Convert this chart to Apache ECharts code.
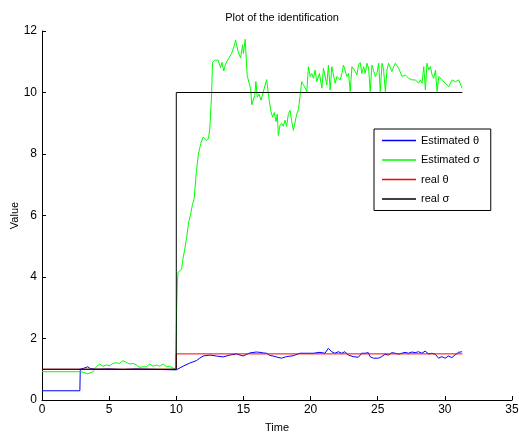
<!DOCTYPE html>
<html>
<head>
<meta charset="utf-8">
<script src="https://cdn.jsdelivr.net/npm/echarts@6/dist/echarts.min.js"></script>
<style>html,body{margin:0;padding:0;background:#fff;}#c{width:519px;height:435px;}</style>
</head>
<body>
<div id="c"></div>
<script>
var seriesNames = ['Estimated θ', 'Estimated σ', 'real θ', 'real σ'];
var xTicks = [0, 5, 10, 15, 20, 25, 30, 35];
var yTicks = [0, 2, 4, 6, 8, 10, 12];

var estTheta = [
  [0, 0.3], [2.82, 0.3], [2.85, 1.0], [3.1, 1.03], [3.4, 1.08], [3.6, 1.02], [4.0, 1.0], [5.0, 1.01],
  [6.0, 0.99], [7.0, 1.01], [8.0, 1.0], [9.0, 0.99], [10.0, 0.98],
  [10.51, 1.1], [11.0, 1.2], [11.5, 1.28], [11.75, 1.36], [12.0, 1.43], [12.5, 1.46], [13.0, 1.43],
  [13.48, 1.4], [13.98, 1.46], [14.47, 1.5], [14.97, 1.43], [15.47, 1.53], [15.96, 1.56], [16.23, 1.55],
  [16.46, 1.53], [16.72, 1.52], [16.96, 1.45], [17.21, 1.43], [17.45, 1.4], [17.83, 1.36], [18.2, 1.41],
  [18.7, 1.44], [19.2, 1.52], [19.7, 1.52], [20.2, 1.52], [20.7, 1.55], [21.07, 1.52], [21.32, 1.68],
  [21.57, 1.57], [21.81, 1.52], [22.06, 1.57], [22.31, 1.52], [22.56, 1.57], [22.81, 1.46], [23.18, 1.41],
  [23.56, 1.39], [23.81, 1.52], [24.06, 1.52], [24.3, 1.54], [24.43, 1.41], [24.68, 1.36], [25.05, 1.36],
  [25.3, 1.41], [25.55, 1.49], [25.8, 1.46], [26.05, 1.54], [26.3, 1.52], [26.55, 1.49], [26.8, 1.52],
  [27.04, 1.55], [27.29, 1.52], [27.54, 1.56], [27.79, 1.54], [28.04, 1.57], [28.29, 1.52], [28.53, 1.59],
  [28.78, 1.5], [29.03, 1.52], [29.28, 1.49], [29.53, 1.36], [29.78, 1.41], [30.02, 1.36], [30.27, 1.43],
  [30.52, 1.38], [30.77, 1.47], [31.02, 1.55], [31.27, 1.57]
];

var estSigma = [
  [0, 0.92], [2.85, 0.92], [3.1, 0.9], [3.42, 0.85], [3.79, 0.92], [4.04, 1.08], [4.29, 1.17], [4.54, 1.1],
  [4.79, 1.14], [5.03, 1.11], [5.28, 1.19], [5.53, 1.21], [5.78, 1.19], [6.03, 1.28], [6.28, 1.22],
  [6.53, 1.17], [6.78, 1.19], [7.02, 1.14], [7.27, 1.06], [7.52, 1.08], [7.77, 1.08], [8.02, 1.17],
  [8.27, 1.1], [8.52, 1.14], [8.77, 1.1], [9.02, 1.17], [9.26, 1.08], [9.51, 1.1], [9.76, 1.03],
  [9.94, 1.03], [10.0, 1.03], [10.03, 3.0], [10.08, 3.8], [10.13, 4.15], [10.25, 4.2], [10.39, 4.25],
  [10.5, 4.6], [10.63, 4.9], [10.76, 5.25], [10.93, 5.8], [11.05, 6.0], [11.2, 6.35], [11.33, 6.55],
  [11.5, 7.45], [11.65, 8.0], [11.75, 8.2], [11.83, 8.35], [11.9, 8.3], [12.0, 8.55], [12.13, 8.6],
  [12.25, 8.45], [12.4, 8.5], [12.5, 8.85], [12.63, 9.95], [12.7, 10.98], [12.87, 11.05], [13.0, 11.0],
  [13.12, 11.05], [13.3, 10.8], [13.4, 10.98], [13.54, 10.7], [13.65, 10.9], [13.75, 11.0], [13.92, 11.12],
  [14.12, 11.27], [14.3, 11.5], [14.42, 11.7], [14.52, 11.5], [14.61, 11.33], [14.79, 11.12], [14.94, 11.55],
  [15.0, 11.27], [15.13, 11.73], [15.28, 10.55], [15.4, 10.6], [15.54, 10.12], [15.62, 9.6], [15.7, 9.55],
  [15.84, 9.9], [15.93, 10.36], [16.03, 9.85], [16.16, 9.95], [16.31, 9.75], [16.48, 10.02], [16.73, 10.42],
  [16.9, 9.8], [17.05, 9.37], [17.18, 9.2], [17.3, 9.35], [17.43, 9.05], [17.52, 9.3], [17.6, 8.6],
  [17.72, 8.93], [17.85, 9.0], [17.97, 8.9], [18.1, 9.1], [18.22, 8.9], [18.34, 9.28], [18.47, 9.42],
  [18.6, 9.05], [18.72, 8.77], [18.85, 8.8], [18.97, 9.3], [19.1, 9.45], [19.22, 9.9], [19.34, 10.35],
  [19.47, 10.25], [19.6, 10.15], [19.72, 10.03], [19.84, 10.84], [19.97, 10.52], [20.09, 10.62],
  [20.22, 10.46], [20.34, 10.73], [20.46, 10.35], [20.66, 10.62], [20.84, 10.14], [20.96, 10.79],
  [21.09, 10.84], [21.21, 10.25], [21.33, 10.89], [21.46, 10.08], [21.58, 10.84], [21.71, 10.89],
  [21.83, 10.3], [21.96, 10.52], [22.2, 10.41], [22.33, 10.62], [22.45, 10.89], [22.58, 10.95],
  [22.7, 10.52], [22.83, 10.62], [22.95, 10.03], [23.08, 10.84], [23.2, 10.89], [23.33, 10.68],
  [23.45, 10.57], [23.57, 10.89], [23.7, 10.97], [23.82, 10.62], [23.95, 10.84], [24.07, 10.62],
  [24.2, 10.95], [24.32, 10.79], [24.44, 10.03], [24.57, 10.89], [24.69, 10.84], [24.82, 10.52],
  [24.94, 10.62], [25.07, 10.95], [25.19, 10.03], [25.32, 10.95], [25.44, 10.73], [25.57, 10.03],
  [25.69, 10.73], [25.81, 10.95], [25.94, 11.0], [26.06, 10.68], [26.19, 10.84], [26.31, 10.95],
  [26.44, 10.89], [26.56, 10.79], [26.68, 10.84], [26.81, 10.52], [26.93, 10.46], [27.06, 10.57],
  [27.18, 10.52], [27.31, 10.46], [27.43, 10.52], [27.56, 10.41], [27.68, 10.35], [27.8, 10.41],
  [27.93, 10.35], [28.05, 10.3], [28.18, 10.41], [28.3, 10.3], [28.43, 10.84], [28.55, 10.08],
  [28.67, 10.95], [28.8, 10.73], [28.92, 10.84], [29.05, 10.57], [29.17, 10.46], [29.3, 10.73],
  [29.42, 10.03], [29.55, 10.52], [29.67, 10.46], [29.79, 10.41], [29.92, 10.35], [30.04, 10.3],
  [30.17, 10.25], [30.29, 10.19], [30.41, 10.3], [30.54, 10.41], [30.66, 10.35], [30.79, 10.35],
  [30.91, 10.41], [31.04, 10.41], [31.16, 10.35], [31.28, 10.14]
];

var realTheta = [[0, 1], [10, 1], [10, 1.5], [31.3, 1.5]];
var realSigma = [[0, 1], [10, 1], [10, 10], [31.3, 10]];

var colors = ['#0000ff', '#00ff00', '#ff0000', '#000000'];
var seriesData = [estTheta, estSigma, realTheta, realSigma];
var font = 'Liberation Sans, Arial, Helvetica, sans-serif';

var chart = echarts.init(document.getElementById('c'));
chart.setOption({
  animation: false,
  backgroundColor: '#ffffff',
  title: {
    text: 'Plot of the identification',
    left: 277, top: 7, textAlign: 'center',
    textStyle: { fontFamily: font, fontSize: 11, fontWeight: 'normal', color: '#000' }
  },
  grid: { left: 42, right: 7, top: 31, bottom: 35, containLabel: false, outerBoundsMode: 'none' },
  legend: {
    orient: 'vertical',
    left: 374, top: 129,
    padding: [6, 11, 6, 8],
    itemGap: 8.5,
    itemWidth: 34, itemHeight: 1.5,
    icon: 'rect',
    borderColor: '#000', borderWidth: 1,
    backgroundColor: '#fff',
    textStyle: { fontFamily: font, fontSize: 11, color: '#000', padding: [0, 0, 0, 0] },
    data: seriesNames
  },
  xAxis: {
    type: 'value', min: 0, max: 35, interval: 5,
    name: 'Time', nameLocation: 'middle', nameGap: 22, nameMoveOverlap: false,
    nameTextStyle: { fontFamily: font, fontSize: 11, color: '#000' },
    axisLine: { show: true, lineStyle: { color: '#000', width: 1 } },
    axisTick: { show: true, inside: true, length: 4, lineStyle: { color: '#000' } },
    axisLabel: { fontFamily: font, fontSize: 12, color: '#000', margin: 4 },
    splitLine: { show: false }
  },
  yAxis: {
    type: 'value', min: 0, max: 12, interval: 2,
    name: 'Value', nameLocation: 'middle', nameGap: 22, nameRotate: 90, nameMoveOverlap: false,
    nameTextStyle: { fontFamily: font, fontSize: 11, color: '#000' },
    axisLine: { show: true, lineStyle: { color: '#000', width: 1 } },
    axisTick: { show: true, inside: true, length: 4, lineStyle: { color: '#000' } },
    axisLabel: { fontFamily: font, fontSize: 12, color: '#000', margin: 5 },
    splitLine: { show: false }
  },
  series: seriesNames.map(function (n, i) {
    return {
      name: n, type: 'line', data: seriesData[i],
      showSymbol: false, symbol: 'none',
      color: colors[i],
      lineStyle: { color: colors[i], width: 1 },
      z: 2 + i
    };
  })
});
</script>
</body>
</html>
